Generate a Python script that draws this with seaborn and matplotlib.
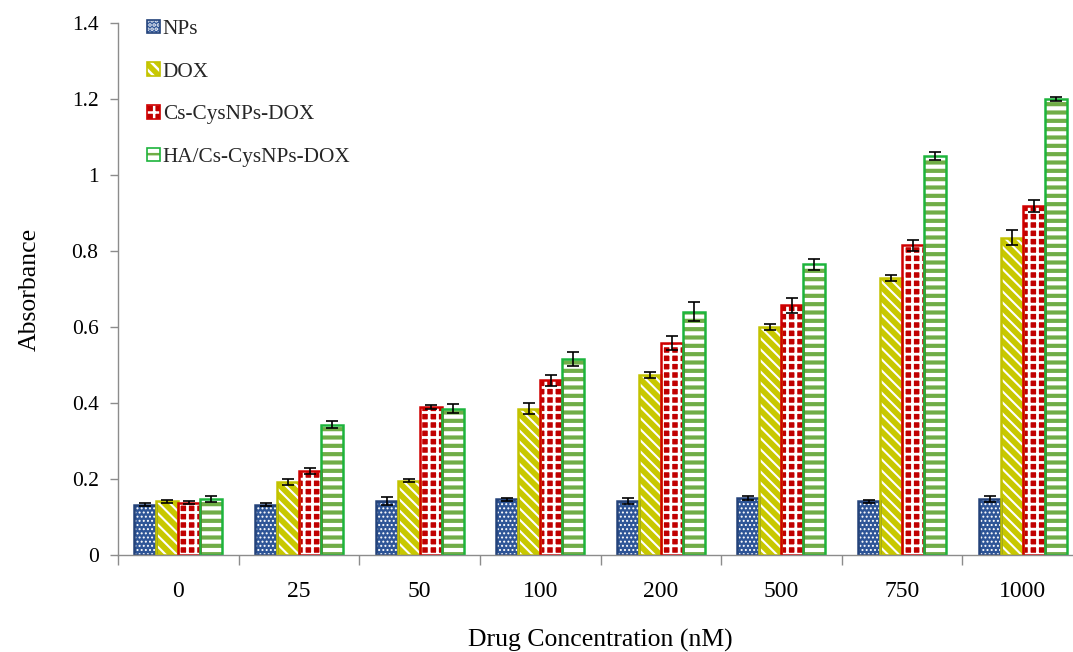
import matplotlib
matplotlib.use("Agg")
import matplotlib.pyplot as plt
from matplotlib.patches import Rectangle
import numpy as np
import pandas as pd
import seaborn as sns

# ---- data -------------------------------------------------------------
concentrations = ["0", "25", "50", "100", "200", "500", "750", "1000"]
series = ["NPs", "DOX", "Cs-CysNPs-DOX", "HA/Cs-CysNPs-DOX"]

nps_vals = [0.132, 0.132, 0.142, 0.147, 0.143, 0.150, 0.142, 0.148]
dox_vals = [0.142, 0.192, 0.195, 0.385, 0.473, 0.600, 0.730, 0.835]
cs_vals = [0.138, 0.222, 0.390, 0.460, 0.558, 0.657, 0.815, 0.918]
ha_vals = [0.148, 0.343, 0.385, 0.515, 0.640, 0.765, 1.050, 1.200]

nps_err = [0.004, 0.004, 0.010, 0.004, 0.008, 0.004, 0.004, 0.008]
dox_err = [0.004, 0.008, 0.004, 0.015, 0.008, 0.008, 0.008, 0.020]
cs_err = [0.005, 0.008, 0.006, 0.015, 0.018, 0.020, 0.015, 0.016]
ha_err = [0.008, 0.010, 0.012, 0.018, 0.025, 0.015, 0.010, 0.005]

values = [nps_vals, dox_vals, cs_vals, ha_vals]
errors = [nps_err, dox_err, cs_err, ha_err]

# ---- styles: fill colour, hatch colour, hatch, outline, hatch width -----
styles = {
    "NPs": dict(face="#2E5597", hatchcol="white", hatch="....", edge="#24437A", hlw=0.9),
    "DOX": dict(face="#C8C800", hatchcol="white", hatch="\\\\\\", edge="#C2C200", hlw=1.5),
    "Cs-CysNPs-DOX": dict(face="#C00000", hatchcol="white", hatch="++", edge="#D00000", hlw=2.0),
    "HA/Cs-CysNPs-DOX": dict(face="white", hatchcol="#70AD47", hatch="--", edge="#1DB43C", hlw=3.0),
}

df = pd.DataFrame({
    "Concentration": np.tile(concentrations, len(series)),
    "Series": np.repeat(series, len(concentrations)),
    "Absorbance": np.concatenate(values),
})

sns.set_theme(style="white")
plt.rcParams["font.family"] = ["Liberation Serif", "DejaVu Serif"]
plt.rcParams["hatch.linewidth"] = 1.8

fig = plt.figure(figsize=(10.73, 6.52), dpi=100)
ax = fig.add_axes([118 / 1073, 97 / 652, 965 / 1073, 532 / 652])

sns.barplot(data=df, x="Concentration", y="Absorbance", hue="Series",
            order=concentrations, hue_order=series, width=0.73,
            errorbar=None, ax=ax, legend=False)


def style_fill(p, st):
    p.set_facecolor(st["face"])
    p.set_edgecolor(st["hatchcol"])   # hatch colour follows the edge colour
    p.set_linewidth(0)
    p.set_hatch(st["hatch"])
    if hasattr(p, "set_hatch_linewidth"):
        p.set_hatch_linewidth(st["hlw"])


handles = []
for name, cont, err in zip(series, ax.containers, errors):
    st = styles[name]
    xs, ys = [], []
    for p in cont.patches:
        style_fill(p, st)
        ax.add_patch(Rectangle(p.get_xy(), p.get_width(), p.get_height(),
                               fill=False, edgecolor=st["edge"], linewidth=1.8,
                               zorder=p.get_zorder() + 0.1))
        xs.append(p.get_x() + p.get_width() / 2)
        ys.append(p.get_height())
    ax.errorbar(xs, ys, yerr=err, fmt="none", ecolor="black", elinewidth=1.2,
                capsize=4.5, capthick=1.2, zorder=5)
    h_fill = Rectangle((0, 0), 1, 1)
    style_fill(h_fill, st)
    h_edge = Rectangle((0, 0), 1, 1, fill=False, edgecolor=st["edge"], linewidth=1.2)
    handles.append((h_fill, h_edge))

ax.legend(handles, series, loc="upper left", bbox_to_anchor=(0.030, 1.006),
          frameon=False, fontsize=15.3, handlelength=0.6, handleheight=0.6,
          handletextpad=0.15, labelspacing=1.1, borderpad=0, borderaxespad=0)

# ---- axes -------------------------------------------------------------
ax.set_ylim(0, 1.4)
ax.set_xlim(-0.5, len(concentrations) - 0.5)
ax.set_yticks(np.arange(0, 1.41, 0.2))
ax.set_yticklabels(["0", "0.2", "0.4", "0.6", "0.8", "1", "1.2", "1.4"])
ax.set_xticks(range(len(concentrations)))
ax.set_xticklabels(concentrations)
ax.set_xticks(np.arange(-0.5, len(concentrations), 1.0), minor=True)

for s in ["top", "right"]:
    ax.spines[s].set_visible(False)
for s in ["left", "bottom"]:
    ax.spines[s].set_color("#8C8C8C")
    ax.spines[s].set_linewidth(1.0)

ax.tick_params(axis="y", which="major", left=True, length=6, width=1.0,
               color="#8C8C8C", labelsize=15.5, pad=8, labelcolor="black")
ax.tick_params(axis="x", which="major", bottom=False, length=0, labelsize=17,
               pad=19, labelcolor="black")
ax.tick_params(axis="x", which="minor", bottom=True, length=7, width=1.0,
               color="#8C8C8C")
ax.grid(False)

ax.set_ylabel("Absorbance", fontsize=18.5, labelpad=22, color="black")
ax.set_xlabel("Drug Concentration (nM)", fontsize=18.5, labelpad=19, color="black")

fig.savefig("out.png", dpi=100)
